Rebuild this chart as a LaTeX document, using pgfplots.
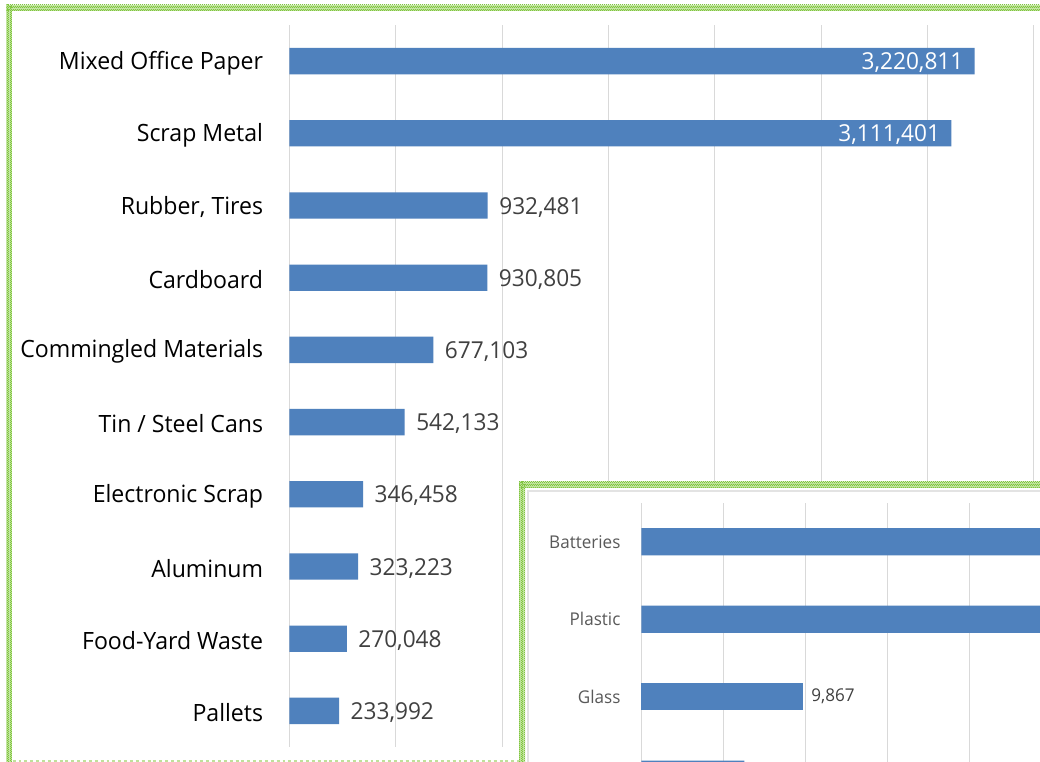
\documentclass[border=0pt]{standalone}
\usepackage{pgfplots}
\pgfplotsset{compat=1.18}
\usepackage{pgfplotstable}
\usepackage{fontspec}
\setmainfont{Open Sans}[FakeStretch=0.97]
\usetikzlibrary{patterns}
\definecolor{barblue}{HTML}{4F81BD}
\definecolor{gridgray}{HTML}{D9D9D9}
\definecolor{checkgreen}{HTML}{80C440}
\definecolor{checkbase}{HTML}{C4E6A2}
\definecolor{dashgreen}{HTML}{BFE09A}
\definecolor{valgray}{HTML}{404040}
\definecolor{catgray}{HTML}{595959}
\definecolor{innergray}{HTML}{E3E3E3}

\pgfdeclarepatternformonly{finecheck}{\pgfpointorigin}{\pgfqpoint{1.8pt}{1.8pt}}{\pgfqpoint{1.8pt}{1.8pt}}{%
  \pgfpathrectangle{\pgfpointorigin}{\pgfqpoint{0.9pt}{0.9pt}}%
  \pgfpathrectangle{\pgfqpoint{0.9pt}{0.9pt}}{\pgfqpoint{0.9pt}{0.9pt}}%
  \pgfusepath{fill}}

\pgfplotstableread{
idx val lab
0 3220811 3,220,811
1 3111401 3,111,401
}\bigtable
\pgfplotstableread{
idx val lab
2 932481 932,481
3 930805 930,805
4 677103 677,103
5 542133 542,133
6 346458 346,458
7 323223 323,223
8 270048 270,048
9 233992 233,992
}\smalltable
\pgfplotstableread{
idx val
0 31000
1 30500
3 6280
}\insetbars
\pgfplotstableread{
idx val lab
2 9867 9,867
}\insetglass

\begin{document}
\begin{tikzpicture}
\useasboundingbox (0pt,0pt) rectangle (780pt,-571.5pt);
\clip (0pt,0pt) rectangle (780pt,-571.5pt);
\fill[white] (0pt,0pt) rectangle (780pt,-571.5pt);
\begin{axis}[
  anchor=north west, at={(217pt,-18.75pt)},
  scale only axis, width=558.5pt, height=541.5pt,
  xbar, bar width=19.75pt, bar shift=0pt,
  xmin=0, xmax=3500000, ymin=-0.5, ymax=9.5, y dir=reverse,
  xtick={0,500000,1000000,1500000,2000000,2500000,3000000,3500000},
  xticklabels={}, scaled x ticks=false,
  xmajorgrids, grid style={gridgray, line width=0.75pt},
  ytick={0,1,2,3,4,5,6,7,8,9},
  yticklabels={Mixed Office Paper,Scrap Metal,{Rubber, Tires},Cardboard,Commingled Materials,Tin / Steel Cans,Electronic Scrap,Aluminum,Food-Yard Waste,Pallets},
  yticklabel style={font=\fontsize{17.85}{20}\selectfont, text=black, anchor=east, inner sep=0pt, xshift=-19.5pt, yshift=-1.3pt},
  axis lines*=left, axis line style={draw=none}, major tick length=0pt,
  clip=false,
  point meta=explicit symbolic,
  nodes near coords={\pgfplotspointmeta},
]
\addplot[fill=barblue, draw=none,
  every node near coord/.append style={anchor=east, text=white, inner sep=0pt, xshift=-8.25pt, yshift=-1.3pt, font=\fontsize{17.5}{20}\selectfont}]
  table[x=val, y=idx, meta=lab] {\bigtable};
\addplot[fill=barblue, draw=none,
  every node near coord/.append style={anchor=west, text=valgray, inner sep=0pt, xshift=8.5pt, yshift=-1.3pt, font=\fontsize{17.5}{20}\selectfont}]
  table[x=val, y=idx, meta=lab] {\smalltable};
\end{axis}
% main frame
\fill[checkbase] (4.75pt,-3.75pt) rectangle (9.25pt,-571.5pt);
\fill[checkbase] (4.75pt,-3.75pt) rectangle (780pt,-8.5pt);
\fill[pattern=finecheck, pattern color=checkgreen] (4.75pt,-3.75pt) rectangle (9.25pt,-571.5pt);
\fill[pattern=finecheck, pattern color=checkgreen] (4.75pt,-3.75pt) rectangle (780pt,-8.5pt);
\draw[dashgreen, line width=0.9pt, dash pattern=on 2.2pt off 2.2pt] (9.5pt,-570.75pt) -- (389pt,-570.75pt);
% inset frame
\fill[white] (389.25pt,-361.5pt) rectangle (780pt,-571.5pt);
\fill[checkbase] (389.25pt,-361.5pt) rectangle (393.75pt,-571.5pt);
\fill[checkbase] (389.25pt,-361.5pt) rectangle (780pt,-365.75pt);
\fill[pattern=finecheck, pattern color=checkgreen] (389.25pt,-361.5pt) rectangle (393.75pt,-571.5pt);
\fill[pattern=finecheck, pattern color=checkgreen] (389.25pt,-361.5pt) rectangle (780pt,-365.75pt);
\draw[innergray, line width=1.4pt] (396.25pt,-571.5pt) -- (396.25pt,-368.25pt) -- (780pt,-368.25pt);
\begin{axis}[
  anchor=north west, at={(481pt,-377.25pt)},
  scale only axis, width=430.5pt, height=232.5pt,
  xbar, bar width=20.5pt, bar shift=0pt,
  xmin=0, xmax=35000, ymin=-0.5, ymax=3.5, y dir=reverse,
  xtick={0,5000,10000,15000,20000,25000,30000,35000},
  xticklabels={}, scaled x ticks=false,
  xmajorgrids, grid style={gridgray, line width=0.75pt},
  ytick={0,1,2,3},
  yticklabels={Batteries,Plastic,Glass,{}},
  yticklabel style={font=\fontsize{13.2}{16}\selectfont, text=catgray, anchor=east, inner sep=0pt, xshift=-15.5pt},
  axis lines*=left, axis line style={draw=none}, major tick length=0pt,
  clip=false,
]
\addplot[fill=barblue, draw=none] table[x=val, y=idx] {\insetbars};
\addplot[fill=barblue, draw=none, point meta=explicit symbolic,
  nodes near coords={\pgfplotspointmeta},
  every node near coord/.append style={anchor=west, text=valgray, inner sep=0pt, xshift=6pt, font=\fontsize{13.2}{16}\selectfont}]
  table[x=val, y=idx, meta=lab] {\insetglass};
\end{axis}
\end{tikzpicture}
\end{document}
